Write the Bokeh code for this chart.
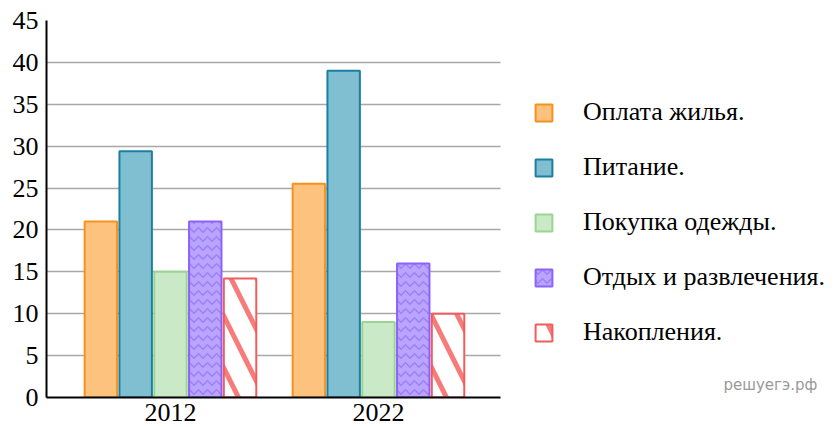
from bokeh.plotting import figure
from bokeh.models import Range1d, FixedTicker, Legend, LegendItem, Label
from bokeh.embed import file_html
from bokeh.resources import INLINE

years = ["2012", "2022"]
categories = ["Оплата жилья.", "Питание.", "Покупка одежды.",
              "Отдых и развлечения.", "Накопления."]
housing = [21, 25.5]
food = [29.4, 39]
clothes = [15, 9]
leisure = [21, 16]
savings = [14.2, 10]
y_ticks = [0, 5, 10, 15, 20, 25, 30, 35, 40, 45]

series = [housing, food, clothes, leisure, savings]
styles = [
    dict(fill_color="#fdc27e", line_color="#f7901e"),
    dict(fill_color="#80bed1", line_color="#1b7fa2"),
    dict(fill_color="#cae9c6", line_color="#9ad594"),
    dict(fill_color="#b9a4ff", line_color="#8c63fa", hatch_pattern="horizontal_wave",
         hatch_color="#8a66f5", hatch_alpha=0.6, hatch_scale=9, hatch_weight=1.5),
    dict(fill_color="#ffffff", line_color="#f25c5c", hatch_pattern="\\",
         hatch_color="#f46464", hatch_alpha=0.85, hatch_scale=52, hatch_weight=5),
]

SERIF = "Liberation Serif"
X0, X_AXIS_END, X1 = -0.596, 1.587, 3.207

p = figure(width=837, height=427, output_backend="svg", toolbar_location=None,
           x_range=Range1d(X0, X1), y_range=Range1d(0, 45),
           min_border_left=46, min_border_top=20, min_border_right=0,
           min_border_bottom=30)
p.outline_line_color = None
p.background_fill_color = "white"

group_x = list(range(len(years)))
step = 0.1673
bar_w = 0.156
renderers = []
for i, (vals, st) in enumerate(zip(series, styles)):
    xs = [g + (i - 2) * step for g in group_x]
    r = p.vbar(x=xs, top=vals, bottom=0, width=bar_w, line_width=2, **st)
    renderers.append(r)

# axes
p.yaxis.ticker = FixedTicker(ticks=y_ticks)
p.xaxis.ticker = FixedTicker(ticks=group_x)
p.xaxis.major_label_overrides = {g: y for g, y in zip(group_x, years)}
p.xaxis.bounds = (X0, X_AXIS_END)
for ax in (p.xaxis, p.yaxis):
    ax.axis_line_color = "black"
    ax.axis_line_width = 2
    ax.major_tick_line_color = None
    ax.minor_tick_line_color = None
    ax.major_label_text_font = SERIF
    ax.major_label_text_font_size = "26px"
    ax.major_label_text_color = "black"
p.yaxis.major_label_standoff = 2
p.xaxis.major_label_standoff = 0

p.xgrid.grid_line_color = None
p.ygrid.ticker = FixedTicker(ticks=y_ticks)
p.ygrid.cross_bounds = (X0, X_AXIS_END)
p.ygrid.grid_line_color = "#a8a8a8"
p.ygrid.grid_line_width = 1.5

legend = Legend(items=[LegendItem(label=c, renderers=[r]) for c, r in zip(categories, renderers)],
                location=(487, 50), orientation="vertical",
                label_text_font=SERIF, label_text_font_size="26px",
                label_text_color="black",
                glyph_width=21, glyph_height=21, label_standoff=29,
                label_height=21, spacing=25, padding=0, margin=0,
                border_line_color=None, background_fill_alpha=0)
p.add_layout(legend)

wm = Label(x=2.659, y=0.4, text="решуегэ.рф", text_font="DejaVu Sans",
           text_font_size="15px", text_color="#9a9a9a", text_baseline="bottom")
p.add_layout(wm)

open("out.html", "w").write(file_html(p, INLINE))
